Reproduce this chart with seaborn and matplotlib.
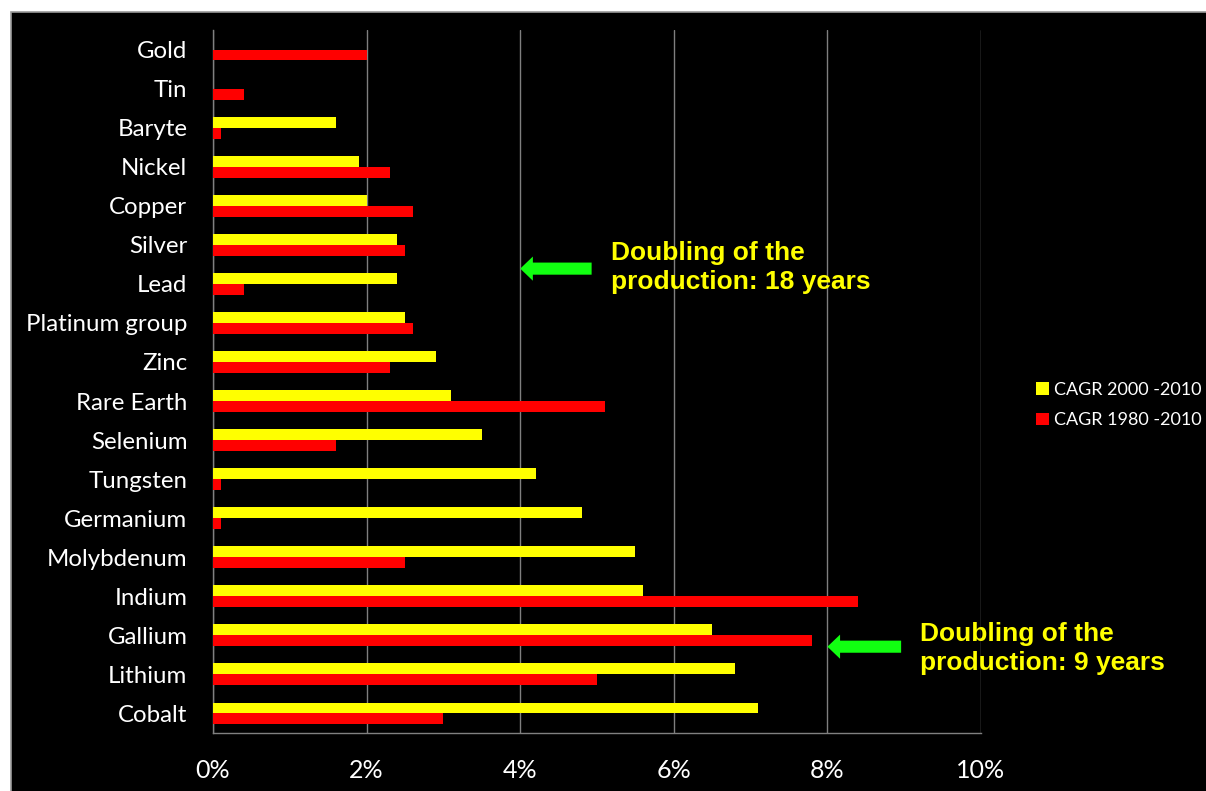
import matplotlib
matplotlib.use("Agg")
import matplotlib.pyplot as plt
from matplotlib.patches import Rectangle, FancyArrow, Patch
from matplotlib.ticker import FixedLocator, FuncFormatter
import seaborn as sns
import pandas as pd

# ---- data ----
metals = ["Gold", "Tin", "Baryte", "Nickel", "Copper", "Silver", "Lead",
          "Platinum group", "Zinc", "Rare Earth", "Selenium", "Tungsten",
          "Germanium", "Molybdenum", "Indium", "Gallium", "Lithium", "Cobalt"]
cagr_2000_2010 = [0.0, 0.0, 1.6, 1.9, 2.0, 2.4, 2.4, 2.5, 2.9, 3.1, 3.5, 4.2,
                  4.8, 5.5, 5.6, 6.5, 6.8, 7.1]
cagr_1980_2010 = [2.0, 0.4, 0.1, 2.3, 2.6, 2.5, 0.4, 2.6, 2.3, 5.1, 1.6, 0.1,
                  0.1, 2.5, 8.4, 7.8, 5.0, 3.0]
series_names = ["CAGR 2000 -2010", "CAGR 1980 -2010"]
series_colors = ["#FFFF00", "#FF0000"]
x_ticks = [0, 2, 4, 6, 8, 10]

df = pd.DataFrame({
    "metal": metals * 2,
    "series": [series_names[0]] * len(metals) + [series_names[1]] * len(metals),
    "value": cagr_2000_2010 + cagr_1980_2010,
})

sns.set_style("white")
plt.rcParams["font.family"] = ["Lato", "DejaVu Sans"]

W, H = 1206, 791
fig = plt.figure(figsize=(W / 100, H / 100), dpi=100, facecolor="white")
# black slide background with grey border
fig.patches.append(Rectangle((11 / W, -0.01), 1.0, 1 - 12 / H + 0.01,
                             transform=fig.transFigure, facecolor="black",
                             edgecolor="#9a9a9a", linewidth=1.2, zorder=-10))

ax = fig.add_axes([213 / W, 1 - 733 / H, (981 - 213) / W, (733 - 30) / H])
ax.set_facecolor("black")

sns.barplot(data=df, y="metal", x="value", hue="series", order=metals,
            hue_order=series_names, palette=series_colors, orient="h",
            width=0.56, saturation=1, dodge=True, ax=ax, legend=False,
            linewidth=0, zorder=3)

ax.set_xlim(0, 10)
ax.set_ylim(len(metals) - 0.5, -0.5)
ax.xaxis.set_major_locator(FixedLocator(x_ticks))
ax.xaxis.set_major_formatter(FuncFormatter(lambda v, p: f"{int(v)}%"))
ax.grid(axis="x", color="#7f7f7f", linewidth=1.0, zorder=0)
ax.set_axisbelow(True)

for s in ["top", "right"]:
    ax.spines[s].set_visible(False)
for s in ["left", "bottom"]:
    ax.spines[s].set_color("#808080")
    ax.spines[s].set_linewidth(1.0)

ax.set_xlabel("")
ax.set_ylabel("")
ax.tick_params(axis="x", colors="#808080", length=9, width=1.0,
               labelcolor="white", labelsize=18, pad=10)
ax.tick_params(axis="y", which="major", length=0, labelcolor="white",
               labelsize=17.3, pad=18.5)
ax.set_yticks([i - 0.5 for i in range(len(metals) + 1)], minor=True)
ax.tick_params(axis="y", which="minor", length=8, width=1.0, color="#808080")

# legend
handles = [Patch(facecolor=c, edgecolor="none", label=n)
           for c, n in zip(series_colors, series_names)]
leg = fig.legend(handles=handles, loc="center left",
                 bbox_to_anchor=(1036 / W, 1 - 405 / H), frameon=False,
                 fontsize=13, labelcolor="white", handlelength=0.7,
                 handleheight=0.7, handletextpad=0.3, labelspacing=0.8,
                 borderpad=0, borderaxespad=0)

# annotations
green = "#11FF11"
ax.add_patch(FancyArrow(4.93, 5.61, -0.93, 0, width=0.31, head_width=0.62,
                        head_length=0.165, length_includes_head=True,
                        color=green, linewidth=0, clip_on=False, zorder=5))
ax.add_patch(FancyArrow(8.96, 15.29, -0.96, 0, width=0.31, head_width=0.62,
                        head_length=0.165, length_includes_head=True,
                        color=green, linewidth=0, clip_on=False, zorder=5))
txt_kw = dict(color="#FFFF00", fontsize=19, fontweight="bold",
              family=["Liberation Sans", "DejaVu Sans"], va="top", ha="left",
              linespacing=1.27)
fig.text(611 / W, 1 - 241 / H, "Doubling of the\nproduction: 18 years", **txt_kw)
fig.text(920 / W, 1 - 622 / H, "Doubling of the\nproduction: 9 years", **txt_kw)

fig.savefig("out.png", dpi=100, facecolor=fig.get_facecolor())
